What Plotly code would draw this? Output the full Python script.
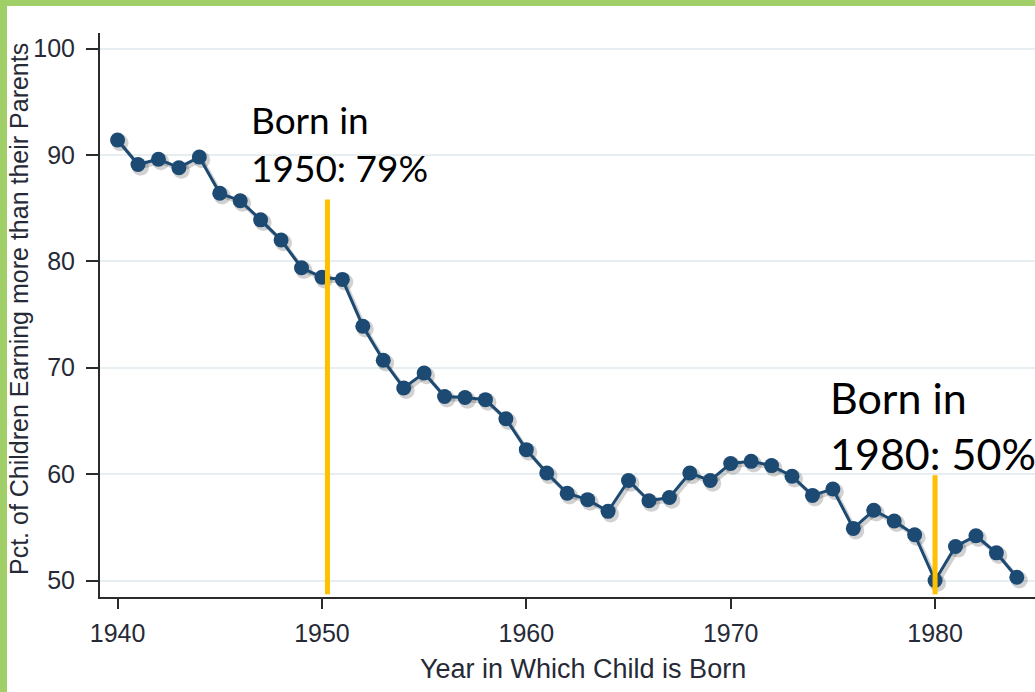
import plotly.graph_objects as go

# ---- data ----
years = list(range(1940, 1985))
pct_earning_more = [
    91.4, 89.1, 89.6, 88.8, 89.8, 86.4, 85.7, 83.9, 82.0, 79.4,
    78.5, 78.3, 73.9, 70.7, 68.1, 69.5, 67.3, 67.2, 67.0, 65.2,
    62.3, 60.1, 58.2, 57.6, 56.5, 59.4, 57.5, 57.8, 60.1, 59.4,
    61.0, 61.2, 60.8, 59.8, 58.0, 58.6, 54.9, 56.6, 55.6, 54.3,
    50.0, 53.2, 54.2, 52.6, 50.3,
]
marker_years = [1950.27, 1980.0]
marker_tops = [85.8, 59.9]
marker_texts = ["Born in<br>1950: 79%", "Born in<br>1980: 50%"]
x_tick_vals = [1940, 1950, 1960, 1970, 1980]
y_tick_vals = [50, 60, 70, 80, 90, 100]

# ---- layout geometry (pixels) ----
W, H = 1035, 692
ML, MR, MT, MB = 100, 0, 33, 95
PW, PH = W - ML - MR, H - MT - MB
XR = [1939.14, 1984.89]
YR = [48.45, 101.46]


def px(xp):
    return (xp - ML) / PW


def py(yp):
    return (H - MB - yp) / PH


NAVY = "#1c4a72"
TXT = "#262a36"

fig = go.Figure()

# soft drop shadow
fig.add_trace(go.Scatter(
    x=[v + 0.12 for v in years], y=[v - 0.25 for v in pct_earning_more],
    mode="lines+markers",
    line=dict(color="rgba(0,0,0,0.18)", width=4),
    marker=dict(color="rgba(0,0,0,0.18)", size=17),
    hoverinfo="skip", showlegend=False,
))
fig.add_trace(go.Scatter(
    x=years, y=pct_earning_more, mode="lines+markers",
    line=dict(color=NAVY, width=3),
    marker=dict(color=NAVY, size=15),
    showlegend=False,
))

shapes = []
for xv, top in zip(marker_years, marker_tops):
    shapes.append(dict(type="line", xref="x", yref="y", x0=xv, x1=xv,
                       y0=YR[0] + 0.25, y1=top,
                       line=dict(color="#FFC000", width=5), layer="above"))
# green frame
GREEN = "#A0CE67"
shapes.append(dict(type="rect", xref="paper", yref="paper",
                   x0=px(0), x1=px(W), y0=py(6), y1=py(0),
                   fillcolor=GREEN, line=dict(width=0), layer="above"))
shapes.append(dict(type="rect", xref="paper", yref="paper",
                   x0=px(0), x1=px(7), y0=py(H), y1=py(0),
                   fillcolor=GREEN, line=dict(width=0), layer="above"))

annotations = [
    dict(text=marker_texts[0], xref="paper", yref="paper",
         x=px(249), y=py(95), xanchor="left", yanchor="top",
         showarrow=False, align="left",
         font=dict(family="Lato", size=37, color="#000000")),
    dict(text=marker_texts[1], xref="paper", yref="paper",
         x=px(828), y=py(370), xanchor="left", yanchor="top",
         showarrow=False, align="left",
         font=dict(family="Lato", size=43, color="#000000")),
    dict(text="Year in Which Child is Born", xref="paper", yref="paper",
         x=px(583), y=py(669), xanchor="center", yanchor="middle",
         showarrow=False,
         font=dict(family="Liberation Sans", size=27, color=TXT)),
    dict(text="Pct. of Children Earning more than their Parents",
         xref="paper", yref="paper", textangle=-90,
         x=px(19), y=py(309), xanchor="center", yanchor="middle",
         showarrow=False,
         font=dict(family="Liberation Sans", size=25, color=TXT)),
]

fig.update_layout(
    width=W, height=H,
    margin=dict(l=ML, r=MR, t=MT, b=MB),
    paper_bgcolor="white", plot_bgcolor="white",
    shapes=shapes, annotations=annotations,
    font=dict(family="Liberation Sans", size=25, color=TXT),
)
fig.update_xaxes(
    range=XR, tickvals=x_tick_vals, showgrid=False, zeroline=False,
    showline=True, linecolor="#2b2b2b", linewidth=2,
    ticks="outside", ticklen=10, tickwidth=2, tickcolor="#2b2b2b",
    tickfont=dict(size=25, color=TXT), ticklabelstandoff=3,
)
fig.update_yaxes(
    range=YR, tickvals=y_tick_vals, showgrid=True, gridcolor="#E6EEF1",
    gridwidth=2, zeroline=False,
    showline=True, linecolor="#2b2b2b", linewidth=2,
    ticks="outside", ticklen=12, tickwidth=2, tickcolor="#2b2b2b",
    tickfont=dict(size=25, color=TXT), ticklabelstandoff=6,
)

fig.write_html(
    "out.html",
    config={"displayModeBar": False},
    post_script="document.body.style.margin='0';document.body.style.overflow='hidden';",
)
